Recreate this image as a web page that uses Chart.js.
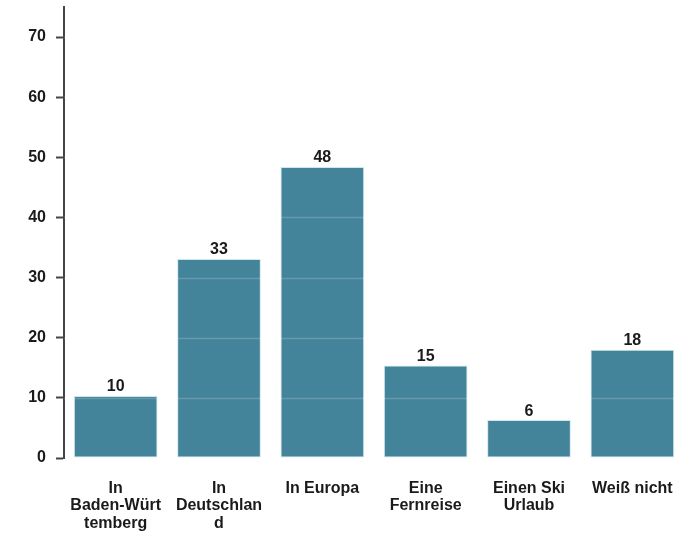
<!DOCTYPE html>
<html>
<head>
<meta charset="utf-8">
<script src="https://cdn.jsdelivr.net/npm/chart.js@4.4.0/dist/chart.umd.min.js"></script>
<style>
  html, body { margin: 0; padding: 0; background: #ffffff; }
  #wrap { width: 697px; height: 536px; position: relative; }
</style>
</head>
<body>
<div id="wrap"><canvas id="c" width="697" height="536"></canvas></div>
<script>
const categories = [
  ["In", "Baden-Würt", "temberg"],
  ["In", "Deutschlan", "d"],
  ["In Europa"],
  ["Eine", "Fernreise"],
  ["Einen Ski", "Urlaub"],
  ["Weiß nicht"]
];
const values = [10.3, 33.1, 48.4, 15.4, 6.3, 18.0];
const valueLabels = ["10", "33", "48", "15", "6", "18"];
const yTicks = [0, 10, 20, 30, 40, 50, 60, 70];

const FONT = "'Liberation Sans', Arial, sans-serif";

const overlayPlugin = {
  id: 'overlay',
  afterDatasetsDraw(chart) {
    const ctx = chart.ctx;
    const y = chart.scales.y;
    const area = chart.chartArea;
    ctx.save();
    ctx.strokeStyle = 'rgba(255,255,255,0.18)';
    ctx.lineWidth = 1.5;
    yTicks.forEach(v => {
      if (v === 0) return;
      const py = Math.round(y.getPixelForValue(v)) + 0.5;
      ctx.beginPath();
      ctx.moveTo(area.left, py);
      ctx.lineTo(area.right, py);
      ctx.stroke();
    });
    const meta = chart.getDatasetMeta(0);
    ctx.fillStyle = '#1a1a1a';
    ctx.font = 'bold 16px ' + FONT;
    ctx.textAlign = 'center';
    ctx.textBaseline = 'bottom';
    meta.data.forEach((bar, i) => {
      ctx.fillText(valueLabels[i], bar.x, bar.y - 1);
    });
    ctx.restore();
  }
};

new Chart(document.getElementById('c'), {
  type: 'bar',
  data: {
    labels: categories,
    datasets: [{
      data: values,
      backgroundColor: '#44849a',
      borderColor: 'rgba(200,228,236,0.9)',
      borderWidth: 1,
      borderSkipped: false,
      categoryPercentage: 0.81,
      barPercentage: 1.0
    }]
  },
  options: {
    responsive: false,
    animation: false,
    devicePixelRatio: 1,
    layout: { padding: { top: 7, right: 13, bottom: 0, left: 0 } },
    plugins: { legend: { display: false }, tooltip: { enabled: false } },
    scales: {
      x: {
        afterFit(scale) { scale.height = 78; scale.paddingLeft = 0; scale.paddingRight = 0; },
        grid: { display: false, drawTicks: false },
        border: { display: false },
        ticks: {
          color: '#1a1a1a',
          font: { family: FONT, size: 16, weight: 'bold', lineHeight: 1.08 },
          padding: 22,
          maxRotation: 0,
          autoSkip: false
        }
      },
      y: {
        min: 0,
        max: 75,
        afterBuildTicks(scale) {
          scale.ticks = yTicks.map(v => ({ value: v }));
        },
        afterFit(scale) { scale.width = 64; scale.paddingTop = 0; scale.paddingBottom = 0; },
        grid: {
          drawOnChartArea: false,
          drawTicks: true,
          tickLength: 8,
          tickWidth: 2,
          color: '#444444'
        },
        border: { display: true, color: '#444444', width: 2 },
        ticks: {
          color: '#1a1a1a',
          font: { family: FONT, size: 16, weight: 'bold' },
          padding: 10
        }
      }
    }
  },
  plugins: [overlayPlugin]
});
</script>
</body>
</html>
